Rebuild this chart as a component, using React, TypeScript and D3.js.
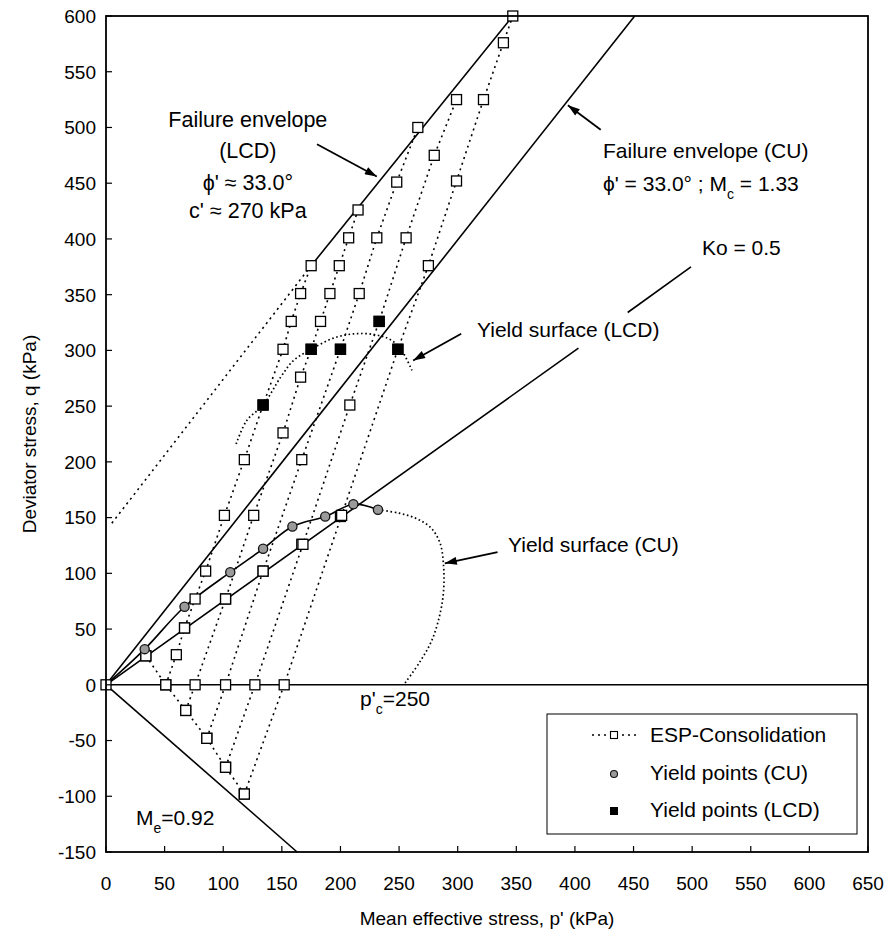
import React from "react";
import * as d3 from "d3";

const W = 894;
const H = 942;
const M = { left: 106, top: 16, right: 26, bottom: 90 };
const FONT = "'Liberation Sans', Arial, Helvetica, sans-serif";

type Pt = [number, number];

// Axes
const xDomain: Pt = [0, 650];
const yDomain: Pt = [-150, 600];
const xTickValues = d3.range(0, 651, 50);
const yTickValues = d3.range(-150, 601, 50);

// Reference lines (p', q in kPa)
const failureCU: Pt[] = [[0, 0], [451, 600]];
const failureLCDDotted: Pt[] = [[5, 145], [175, 376]];
const failureLCDSolid: Pt[] = [[175, 376], [347, 600]];
const koLineLower: Pt[] = [[0, 0], [403, 302]];
const koLineUpper: Pt[] = [[445, 334], [499, 375]];
const meLine: Pt[] = [[0, 0], [163, -150]];
const zeroLine: Pt[] = [[0, 0], [650, 0]];

// Ko consolidation states
const koPoints: Pt[] = [[0, 0], [34, 26], [67, 51], [102, 77], [134, 102], [167, 126], [200, 151]];

// Unloading from the Ko state into extension
const unloadPath: Pt[] = [[34, 26], [51, 0], [68, -23], [86, -48], [102, -74], [118, -98]];

// Effective stress paths, one per starting p'
const esp50: Pt[] = [[51, 0], [60, 27], [67, 51], [76, 77], [85, 102], [101, 152], [118, 202], [134, 251], [151, 301], [158, 326], [166, 351], [175, 376]];
const esp75: Pt[] = [[68, -23], [76, 0], [102, 77], [126, 152], [151, 226], [166, 276], [175, 301], [183, 326], [191, 351], [199, 376], [207, 401], [215, 426]];
const esp100: Pt[] = [[86, -48], [102, 0], [134, 102], [167, 202], [200, 301], [216, 351], [231, 401], [248, 451], [266, 500]];
const esp125: Pt[] = [[102, -74], [127, 0], [168, 126], [208, 251], [233, 326], [256, 401], [280, 475], [299, 525]];
const esp150: Pt[] = [[118, -98], [152, 0], [201, 152], [249, 301], [275, 376], [299, 452], [322, 525], [339, 576], [347, 600]];
const espPaths: Pt[][] = [esp50, esp75, esp100, esp125, esp150];

// Yield points and yield surfaces
const yieldCU: Pt[] = [[33, 32], [67, 70], [106, 101], [134, 122], [159, 142], [187, 151], [211, 162], [232, 157]];
const yieldCUSurface: Pt[] = [[232, 157], [250, 154], [265, 149], [277, 141], [285, 127], [288, 106], [288, 85], [285, 64], [278, 40], [268, 21], [254, 0]];
const yieldLCD: Pt[] = [[134, 251], [175, 301], [200, 301], [233, 326], [249, 301]];
const yieldLCDSurface: Pt[] = [[111, 216], [120, 237], [134, 251], [149, 276], [160, 291], [175, 301], [194, 311], [213, 315], [230, 314], [242, 310], [251, 302], [261, 282]];

const legendItems = ["ESP-Consolidation", "Yield points (CU)", "Yield points (LCD)"];

export default function App() {
  const x = d3.scaleLinear().domain(xDomain).range([M.left, W - M.right]);
  const y = d3.scaleLinear().domain(yDomain).range([H - M.bottom, M.top]);
  const line = d3.line<Pt>().x((d) => x(d[0])).y((d) => y(d[1]));
  const curve = d3.line<Pt>().x((d) => x(d[0])).y((d) => y(d[1])).curve(d3.curveCatmullRom.alpha(0.5));

  const solid = { fill: "none", stroke: "#000", strokeWidth: 1.6 };
  const espDot = { fill: "none", stroke: "#000", strokeWidth: 1.6, strokeDasharray: "2 4" };
  const fineDot = { fill: "none", stroke: "#000", strokeWidth: 1.7, strokeDasharray: "1.6 2.6" };

  const SQ = 10;
  const square = (d: Pt, i: number, filled = false) => (
    <rect key={i} x={x(d[0]) - SQ / 2} y={y(d[1]) - SQ / 2} width={SQ} height={SQ}
      fill={filled ? "#000" : "#fff"} stroke="#000" strokeWidth={1.3} />
  );

  const x0 = x(0), x1 = x(650), yTop = y(600), yBot = y(-150);
  const fs = 19;

  const arrow = (from: Pt, to: Pt, key: string) => (
    <line key={key} x1={x(from[0])} y1={y(from[1])} x2={x(to[0])} y2={y(to[1])}
      stroke="#000" strokeWidth={1.8} markerEnd="url(#arrowHead)" />
  );

  const lx = 547, ly = 714, lw = 310, lh = 120;

  return (
    <svg width={W} height={H} style={{ position: "absolute", left: 0, top: 0, background: "#fff" }}
      fontFamily={FONT}>
      <defs>
        <marker id="arrowHead" viewBox="0 0 12 8" refX="12" refY="4" markerWidth="14" markerHeight="8"
          markerUnits="userSpaceOnUse" orient="auto">
          <path d="M0,0 L12,4 L0,8 z" fill="#000" />
        </marker>
      </defs>
      <rect width={W} height={H} fill="#fff" />

      {/* reference lines */}
      <path d={line(zeroLine)!} {...solid} />
      <path d={line(failureCU)!} {...solid} />
      <path d={line(failureLCDSolid)!} {...solid} />
      <path d={line(failureLCDDotted)!} {...espDot} />
      <path d={line(koLineLower)!} {...solid} />
      <path d={line(koLineUpper)!} {...solid} />
      <path d={line(meLine)!} {...solid} />

      {/* stress paths */}
      <path d={line(unloadPath)!} {...espDot} />
      {espPaths.map((p, i) => <path key={i} d={line(p)!} {...espDot} />)}

      {/* yield surfaces */}
      <path d={curve([[0, 0], ...yieldCU])!} {...solid} />
      <path d={curve(yieldCUSurface)!} {...fineDot} />
      <path d={curve(yieldLCDSurface)!} {...fineDot} />

      {/* markers */}
      <g>{koPoints.map((d, i) => square(d, i))}</g>
      <g>{unloadPath.map((d, i) => square(d, i))}</g>
      {espPaths.map((p, j) => <g key={j}>{p.map((d, i) => square(d, i))}</g>)}
      <g>{yieldCU.map((d, i) => (
        <circle key={i} cx={x(d[0])} cy={y(d[1])} r={4.6} fill="#9a9a9a" stroke="#111" strokeWidth={1.3} />
      ))}</g>
      <g>{yieldLCD.map((d, i) => square(d, i, true))}</g>

      {/* frame and ticks */}
      <rect x={x0} y={yTop} width={x1 - x0} height={yBot - yTop} fill="none" stroke="#000" strokeWidth={1.8} />
      {xTickValues.map((v) => (
        <g key={v}>
          <line x1={x(v)} x2={x(v)} y1={yBot} y2={yBot - 6} stroke="#000" strokeWidth={1.2} />
          <text x={x(v)} y={yBot + 38} textAnchor="middle" fontSize={fs}>{v}</text>
        </g>
      ))}
      {yTickValues.map((v) => (
        <g key={v}>
          <line x1={x0} x2={x0 + 6} y1={y(v)} y2={y(v)} stroke="#000" strokeWidth={1.2} />
          <text x={x0 - 10} y={y(v)} dy="0.36em" textAnchor="end" fontSize={fs}>{v}</text>
        </g>
      ))}
      <text x={(x0 + x1) / 2} y={925} textAnchor="middle" fontSize={fs}>Mean effective stress, p' (kPa)</text>
      <text transform={`translate(36,${(yTop + yBot) / 2}) rotate(-90)`} textAnchor="middle" fontSize={fs}>
        Deviator stress, q (kPa)
      </text>

      {/* annotations */}
      <g fontSize={21.5} textAnchor="middle">
        <text x={x(121)} y={y(500)}>Failure envelope</text>
        <text x={x(121)} y={y(473)}>(LCD)</text>
        <text x={x(121)} y={y(444)}>ϕ' ≈ 33.0°</text>
        <text x={x(121)} y={y(419)}>c' ≈ 270 kPa</text>
      </g>
      {arrow([180, 485], [231, 456], "a1")}

      <g fontSize={21}>
        <text x={603} y={158}>Failure envelope (CU)</text>
        <text x={603} y={191}>ϕ' = 33.0° ; M<tspan baselineShift="sub" fontSize={14}>c</tspan> = 1.33</text>
      </g>
      {arrow([422, 498], [394, 520], "a2")}

      <text x={x(542)} y={y(386)} fontSize={21} textAnchor="middle">Ko = 0.5</text>

      <text x={477} y={337} fontSize={21}>Yield surface (LCD)</text>
      {arrow([303, 315], [262, 291], "a3")}

      <text x={508} y={552} fontSize={21}>Yield surface (CU)</text>
      {arrow([334, 119], [289, 109], "a4")}

      <text x={360} y={706} fontSize={21}>p'<tspan baselineShift="sub" fontSize={14}>c</tspan>=250</text>
      <text x={136} y={825} fontSize={21}>M<tspan baselineShift="sub" fontSize={14}>e</tspan>=0.92</text>

      {/* legend */}
      <rect x={lx} y={ly} width={lw} height={lh} fill="#fff" stroke="#000" strokeWidth={1} />
      <line x1={592} x2={636} y1={735} y2={735} {...espDot} />
      <rect x={614 - 3.5} y={735 - 3.5} width={7} height={7} fill="#fff" stroke="#000" strokeWidth={1.1} />
      <circle cx={614} cy={774} r={3.5} fill="#9a9a9a" stroke="#111" strokeWidth={1.1} />
      <rect x={614 - 4} y={811 - 4} width={8} height={8} fill="#000" />
      {legendItems.map((t, i) => (
        <text key={t} x={650} y={742 + i * 37.5} fontSize={21}>{t}</text>
      ))}
    </svg>
  );
}
